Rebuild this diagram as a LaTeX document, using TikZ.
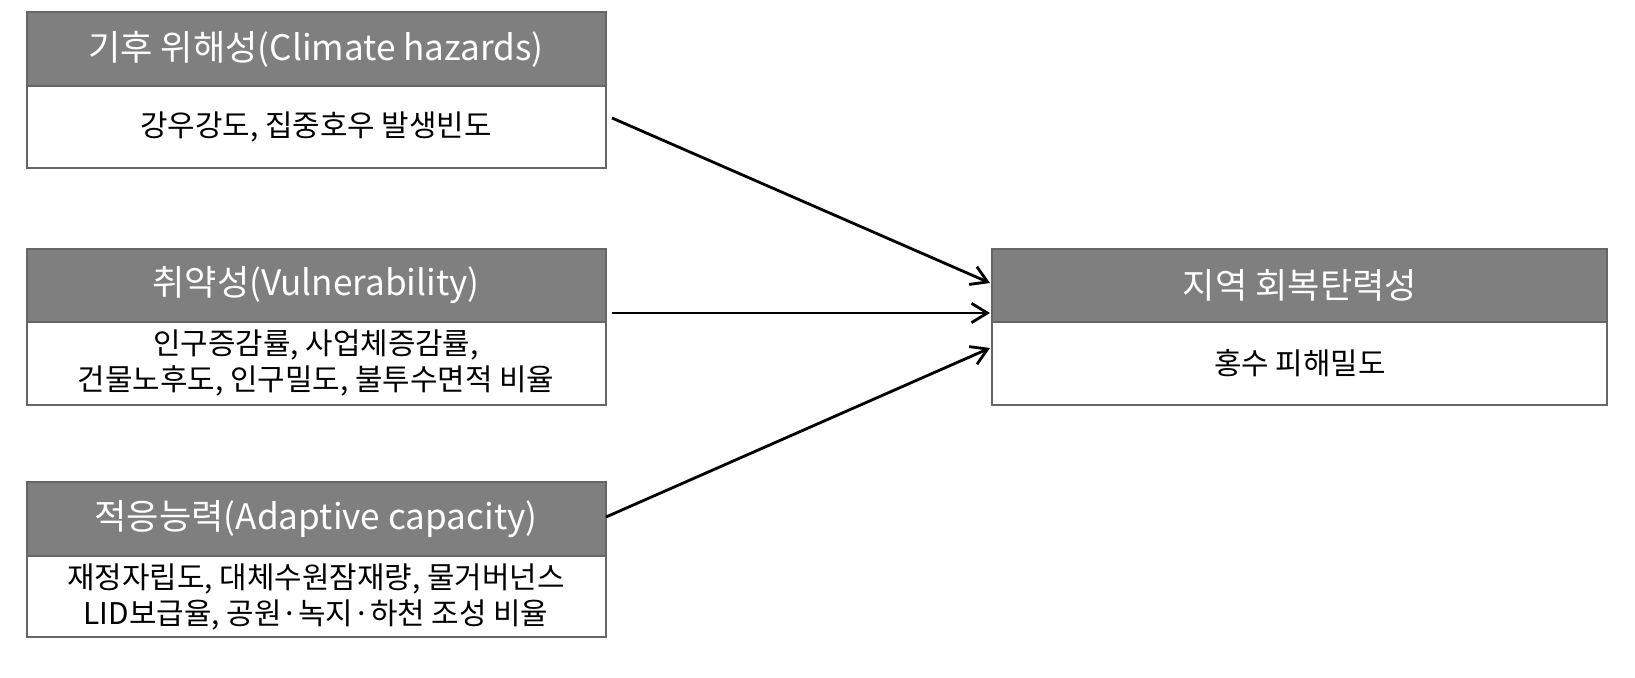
\documentclass[tikz,border=0pt]{standalone}
\usepackage{fontspec}
\setmainfont{Noto Sans CJK KR}
\usetikzlibrary{arrows.meta}
\definecolor{hdr}{HTML}{7F7F7F}
\begin{document}
\begin{tikzpicture}[x=0.02cm,y=-0.02cm,
  head/.style={draw=black!60,line width=0.8pt,fill=hdr},
  body/.style={draw=black!60,line width=0.8pt,fill=white},
  htext/.style={text=white,font=\fontsize{20}{24}\selectfont},
  btext/.style={text=black,font=\fontsize{17}{21}\selectfont,align=center},
  arr/.style={-{Straight Barb[length=9pt,width=11pt]},line width=1.6pt}]
\useasboundingbox (0,0) rectangle (1635,678);
% box 1
\draw[head] (27,12) rectangle (606,86);
\draw[body] (27,86) rectangle (606,168);
\node[htext] (h1) at (316,49) {기후 위해성(Climate hazards)};
\node[btext] (b1) at (316,127) {강우강도, 집중호우 발생빈도};
% box 2
\draw[head] (27,249) rectangle (606,322);
\draw[body] (27,322) rectangle (606,405);
\node[htext] (h2) at (316,285) {취약성(Vulnerability)};
\node[btext] (b2) at (316,363) {인구증감률, 사업체증감률,\\건물노후도, 인구밀도, 불투수면적 비율};
% box 3
\draw[head] (27,482) rectangle (606,556);
\draw[body] (27,556) rectangle (606,637);
\node[htext] (h3) at (316,519) {적응능력(Adaptive capacity)};
\node[btext] (b3) at (316,597) {재정자립도, 대체수원잠재량, 물거버넌스\\LID보급율, 공원·녹지·하천 조성 비율};
% right box
\draw[head] (992,249) rectangle (1607,322);
\draw[body] (992,322) rectangle (1607,405);
\node[htext] (h4) at (1300,285) {지역 회복탄력성};
\node[btext] (b4) at (1300,363) {홍수 피해밀도};
% arrows
\coordinate (s1) at (612,118); \coordinate (t1) at (990,283);
\coordinate (s2) at (612,313); \coordinate (t2) at (990,313);
\coordinate (s3) at (606,517); \coordinate (t3) at (990,348);
\draw[arr] (s1) -- (t1);
\draw[arr] (s2) -- (t2);
\draw[arr] (s3) -- (t3);
\end{tikzpicture}
\end{document}
